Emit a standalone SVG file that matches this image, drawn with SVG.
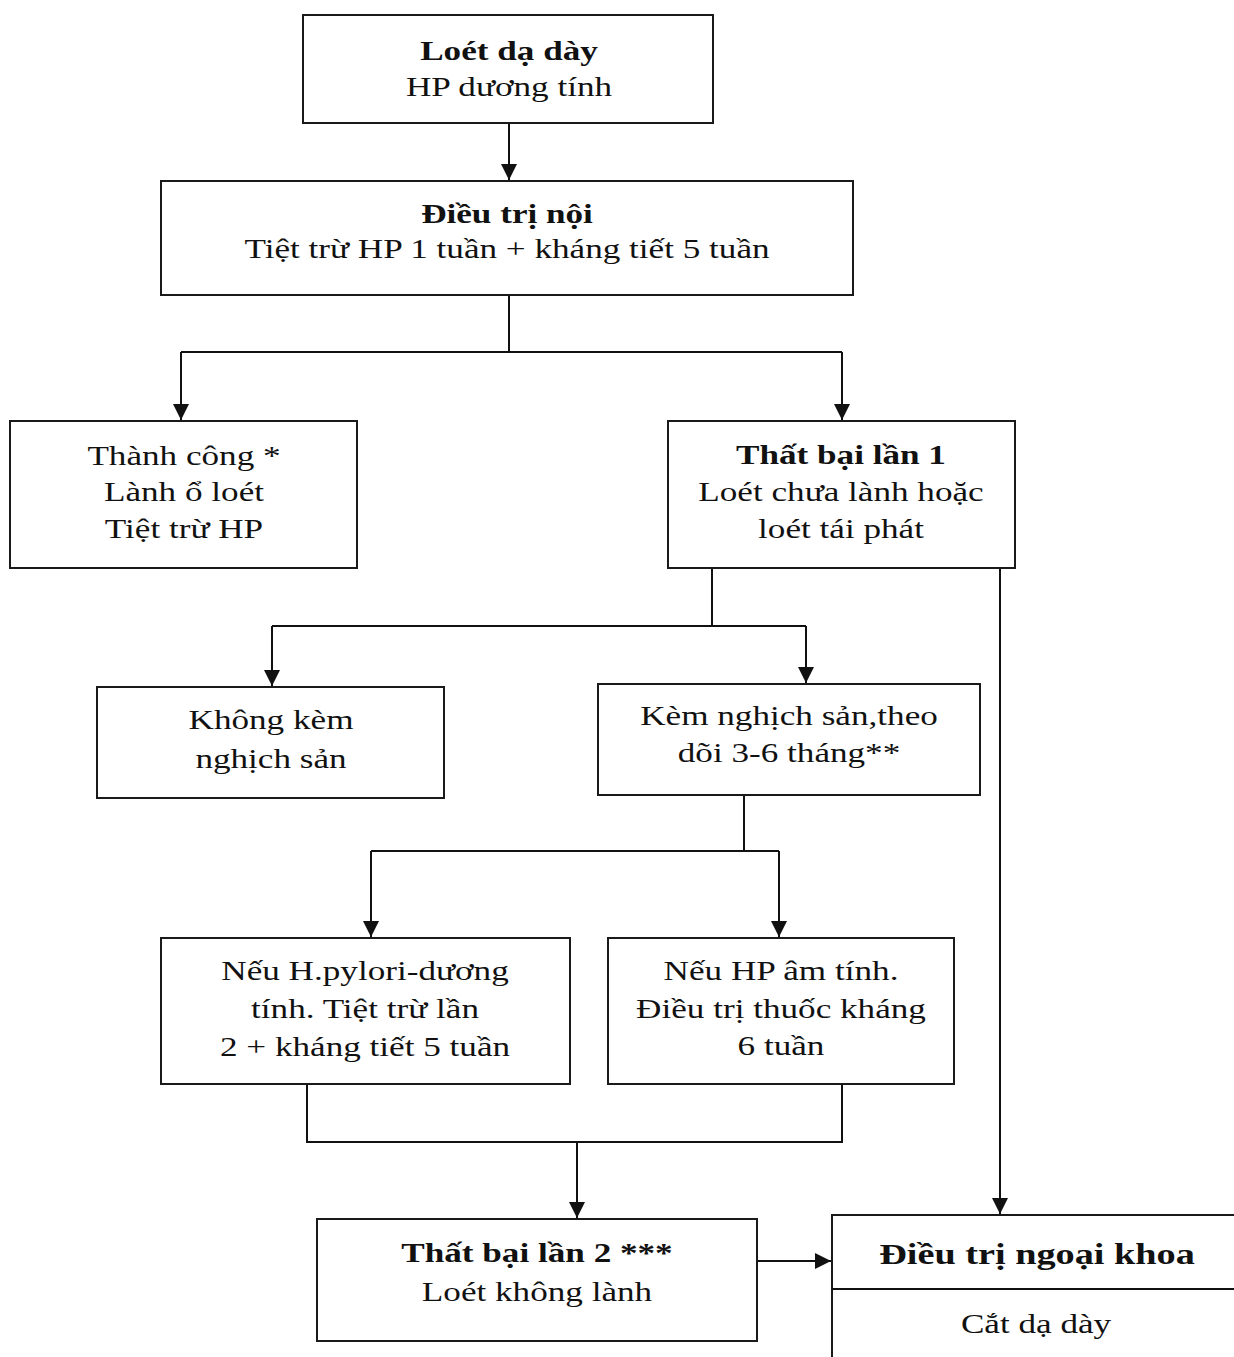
<svg xmlns="http://www.w3.org/2000/svg" width="1234" height="1357" viewBox="0 0 1234 1357">
<style>
.box{fill:#fff;stroke:#1a1a1a;stroke-width:2}
.t{font-family:"Liberation Serif","Times New Roman",serif;font-size:28px;fill:#111;text-anchor:middle}
.b{font-weight:bold}
.c{fill:none;stroke:#111;stroke-width:2}
</style>
<defs>
<marker id="ah" markerWidth="16" markerHeight="16" refX="16" refY="8" orient="auto" markerUnits="userSpaceOnUse">
<path d="M0,0 L16,8 L0,16 z" fill="#111"/>
</marker>
</defs>
<rect width="1234" height="1357" fill="#fff"/>
<g id="connectors">
<path class="c" d="M509,123 V180" marker-end="url(#ah)"/>
<path class="c" d="M509,295 V352 M181,352 H842"/>
<path class="c" d="M181,352 V420" marker-end="url(#ah)"/>
<path class="c" d="M842,352 V420" marker-end="url(#ah)"/>
<path class="c" d="M712,568 V626 M272,626 H806"/>
<path class="c" d="M272,626 V686" marker-end="url(#ah)"/>
<path class="c" d="M806,626 V683" marker-end="url(#ah)"/>
<path class="c" d="M1000,568 V1214" marker-end="url(#ah)"/>
<path class="c" d="M744,795 V851 M371,851 H779"/>
<path class="c" d="M371,851 V937" marker-end="url(#ah)"/>
<path class="c" d="M779,851 V937" marker-end="url(#ah)"/>
<path class="c" d="M307,1084 V1142 H842 V1084"/>
<path class="c" d="M577,1142 V1218" marker-end="url(#ah)"/>
<path class="c" d="M757,1261 H831" marker-end="url(#ah)"/>
</g>
<g id="n1">
<rect class="box" x="303" y="15" width="410" height="108"/>
<text class="t b" transform="translate(509,60) scale(1.255,1)">Loét dạ dày</text>
<text class="t" transform="translate(509,96) scale(1.255,1)">HP dương tính</text>
</g>
<g id="n2">
<rect class="box" x="161" y="181" width="692" height="114"/>
<text class="t b" transform="translate(507,223) scale(1.255,1)">Điều trị nội</text>
<text class="t" transform="translate(507,258) scale(1.255,1)">Tiệt trừ HP 1 tuần + kháng tiết 5 tuần</text>
</g>
<g id="n3">
<rect class="box" x="10" y="421" width="347" height="147"/>
<text class="t" transform="translate(184,465) scale(1.255,1)">Thành công *</text>
<text class="t" transform="translate(184,501) scale(1.255,1)">Lành ổ loét</text>
<text class="t" transform="translate(184,538) scale(1.255,1)">Tiệt trừ HP</text>
</g>
<g id="n4">
<rect class="box" x="668" y="421" width="347" height="147"/>
<text class="t b" transform="translate(841,464) scale(1.255,1)">Thất bại lần 1</text>
<text class="t" transform="translate(841,501) scale(1.255,1)">Loét chưa lành hoặc</text>
<text class="t" transform="translate(841,538) scale(1.255,1)">loét tái phát</text>
</g>
<g id="n5">
<rect class="box" x="97" y="687" width="347" height="111"/>
<text class="t" transform="translate(271,729) scale(1.255,1)">Không kèm</text>
<text class="t" transform="translate(271,768) scale(1.255,1)">nghịch sản</text>
</g>
<g id="n6">
<rect class="box" x="598" y="684" width="382" height="111"/>
<text class="t" transform="translate(789,725) scale(1.255,1)">Kèm nghịch sản,theo</text>
<text class="t" transform="translate(789,762) scale(1.255,1)">dõi 3-6 tháng**</text>
</g>
<g id="n7">
<rect class="box" x="161" y="938" width="409" height="146"/>
<text class="t" transform="translate(365,980) scale(1.255,1)">Nếu H.pylori-dương</text>
<text class="t" transform="translate(365,1018) scale(1.255,1)">tính. Tiệt trừ lần</text>
<text class="t" transform="translate(365,1056) scale(1.255,1)">2 + kháng tiết 5 tuần</text>
</g>
<g id="n8">
<rect class="box" x="608" y="938" width="346" height="146"/>
<text class="t" transform="translate(781,980) scale(1.255,1)">Nếu HP âm tính.</text>
<text class="t" transform="translate(781,1018) scale(1.255,1)">Điều trị thuốc kháng</text>
<text class="t" transform="translate(781,1055) scale(1.255,1)">6 tuần</text>
</g>
<g id="n9">
<rect class="box" x="317" y="1219" width="440" height="122"/>
<text class="t b" transform="translate(537,1262) scale(1.255,1)">Thất bại lần 2 ***</text>
<text class="t" transform="translate(537,1301) scale(1.255,1)">Loét không lành</text>
</g>
<g id="n10">
<rect class="box" x="832" y="1215" width="410" height="150"/>
<path class="c" d="M832,1289 H1234"/>
<text class="t b" transform="translate(1037,1264) scale(1.255,1)" style="font-size:30.5px">Điều trị ngoại khoa</text>
<text class="t" transform="translate(1036,1333) scale(1.255,1)">Cắt dạ dày</text>
</g>
</svg>
